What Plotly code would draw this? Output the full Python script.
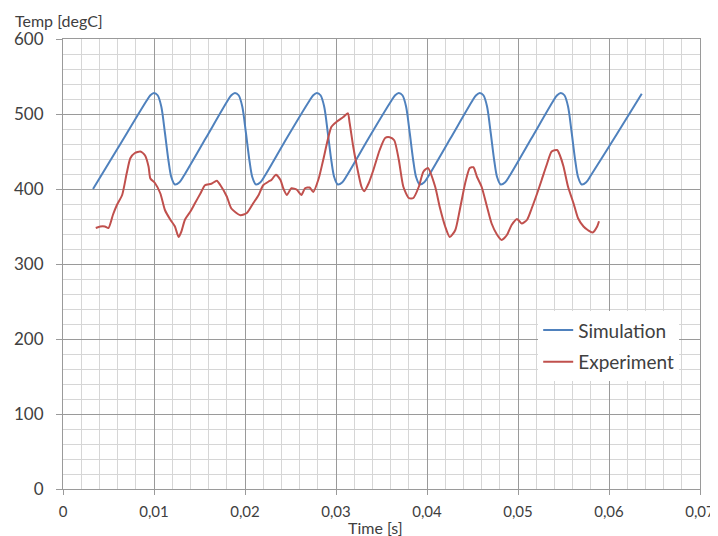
import plotly.graph_objects as go

# Simulation curve (time [s], temperature [degC])
sim_x = [0.0033, 0.0060, 0.0092, 0.0096, 0.0100, 0.0104, 0.0108, 0.0112, 0.0116, 0.0119, 0.0123, 0.0128, 0.0133, 0.0157,
         0.0181, 0.0185, 0.0189, 0.0193, 0.0197, 0.0201, 0.0205, 0.0208, 0.0212, 0.0217, 0.0222, 0.0246,
         0.0271, 0.0275, 0.0279, 0.0283, 0.0287, 0.0291, 0.0295, 0.0298, 0.0302, 0.0307, 0.0312, 0.0336,
         0.0361, 0.0365, 0.0369, 0.0373, 0.0377, 0.0381, 0.0385, 0.0388, 0.0392, 0.0397, 0.0402, 0.0426,
         0.0450, 0.0454, 0.0458, 0.0462, 0.0466, 0.0470, 0.0474, 0.0477, 0.0481, 0.0486, 0.0491, 0.0515,
         0.0539, 0.0543, 0.0547, 0.0551, 0.0555, 0.0559, 0.0563, 0.0566, 0.0570, 0.0575, 0.0580, 0.0608, 0.0636]
sim_y = [400, 454, 518, 525, 528, 525, 510, 475, 437, 416, 406, 409, 418, 468,
         518, 525, 528, 525, 510, 475, 437, 416, 406, 409, 418, 468,
         518, 525, 528, 525, 510, 475, 437, 416, 406, 409, 418, 468,
         518, 525, 528, 525, 510, 475, 437, 416, 406, 409, 418, 468,
         518, 525, 528, 525, 510, 475, 437, 416, 406, 409, 418, 468,
         518, 525, 528, 525, 510, 475, 437, 416, 406, 409, 418, 472, 527]

# Experiment curve
exp_x = [0.0036, 0.0041, 0.0046, 0.0050, 0.0055, 0.0059, 0.0065, 0.0070, 0.0074, 0.0079, 0.0085, 0.0090,
         0.0094, 0.0096, 0.0101, 0.0107, 0.0112, 0.0118, 0.0123, 0.0127, 0.0130, 0.0134, 0.0140, 0.0145,
         0.0151, 0.0156, 0.0163, 0.0169, 0.0173, 0.0180, 0.0185, 0.0195, 0.0202, 0.0209, 0.0215, 0.0220,
         0.0226, 0.0229, 0.0234, 0.0239, 0.0242, 0.0246, 0.0251, 0.0257, 0.0262, 0.0266, 0.0271, 0.0275,
         0.0281, 0.0286, 0.0295, 0.0301, 0.0308, 0.0313, 0.0315, 0.0319, 0.0323, 0.0328, 0.0331, 0.0336,
         0.0341, 0.0348, 0.0354, 0.0359, 0.0364, 0.0369, 0.0374, 0.0380, 0.0385, 0.0391, 0.0396, 0.0401,
         0.0409, 0.0414, 0.0420, 0.0425, 0.0431, 0.0436, 0.0442, 0.0447, 0.0451, 0.0455, 0.0460, 0.0466,
         0.0471, 0.0477, 0.0482, 0.0488, 0.0493, 0.0499, 0.0504, 0.0510, 0.0515, 0.0521, 0.0526, 0.0532,
         0.0537, 0.0543, 0.0546, 0.0550, 0.0555, 0.0561, 0.0566, 0.0572, 0.0577, 0.0582, 0.0587, 0.0589]
exp_y = [348, 350, 350, 348, 366, 378, 392, 421, 441, 448, 450, 445,
         430, 414, 408, 394, 372, 359, 350, 336, 343, 359, 370, 381,
         394, 405, 407, 411, 405, 390, 374, 365, 368, 381, 392, 405,
         410, 412, 419, 412, 401, 392, 401, 399, 392, 401, 402, 396,
         414, 439, 483, 490, 496, 501, 488, 456, 430, 403, 397, 408,
         425, 452, 468, 469, 465, 439, 403, 388, 388, 403, 423, 428,
         403, 376, 350, 336, 345, 372, 408, 428, 429, 416, 403, 376,
         354, 339, 332, 339, 352, 360, 354, 359, 374, 394, 412, 434,
         450, 452, 445, 430, 403, 381, 361, 350, 345, 342, 350, 357]

x_ticks = [0, 0.01, 0.02, 0.03, 0.04, 0.05, 0.06, 0.07]
x_labels = ["0", "0,01", "0,02", "0,03", "0,04", "0,05", "0,06", "0,07"]
y_ticks = [0, 100, 200, 300, 400, 500, 600]

FONT = "Lato"
TXT = "#404040"
MAJOR = "#9a9a9a"
MINOR = "#d6d6d6"

fig = go.Figure()
fig.add_trace(go.Scatter(x=sim_x, y=sim_y, mode="lines", name="Simulation", legendgroup="a",
                         line=dict(color="#4F81BD", width=2, shape="spline", smoothing=0.8)))
fig.add_trace(go.Scatter(x=exp_x, y=exp_y, mode="lines", name="Experiment", legendgroup="b",
                         line=dict(color="#C0504D", width=2, shape="spline", smoothing=0.6)))

fig.update_layout(
    width=710, height=528,
    margin=dict(l=55, r=18, t=31, b=47, autoexpand=False),
    paper_bgcolor="white", plot_bgcolor="white",
    font=dict(family=FONT, size=16, color=TXT),
    separators=", ",
    showlegend=True,
    legend=dict(x=0.746, y=0.395, xanchor="left", yanchor="top",
                bgcolor="white", borderwidth=0,
                font=dict(family=FONT, size=19, color=TXT),
                itemwidth=30, tracegroupgap=4),
    xaxis=dict(range=[0, 0.07], tickvals=x_ticks, ticktext=x_labels, automargin=False,
               showgrid=True, gridcolor=MAJOR, gridwidth=1,
               minor=dict(dtick=0.002, showgrid=True, gridcolor=MINOR, gridwidth=1),
               showline=True, linecolor=MAJOR, mirror=True,
               ticks="outside", ticklen=5, tickcolor=MAJOR, ticklabelstandoff=4,
               ticklabeloverflow="allow",
               zeroline=False, tickfont=dict(size=15)),
    yaxis=dict(range=[0, 600], tickvals=y_ticks, automargin=False,
               showgrid=True, gridcolor=MAJOR, gridwidth=1,
               minor=dict(dtick=20, showgrid=True, gridcolor=MINOR, gridwidth=1),
               showline=True, linecolor=MAJOR, mirror=True,
               ticks="outside", ticklen=6, tickcolor=MAJOR, ticklabelstandoff=9,
               zeroline=False, tickfont=dict(size=17)),
    annotations=[
        dict(text="Temp [degC]", xref="paper", yref="paper", x=-0.0785, y=1.042,
             xanchor="left", yanchor="middle", showarrow=False,
             font=dict(family=FONT, size=16, color=TXT)),
        dict(text="Time [s]", xref="paper", yref="paper", x=0.49, y=-0.086,
             xanchor="center", yanchor="middle", showarrow=False,
             font=dict(family=FONT, size=16, color=TXT)),
    ],
)

fig.write_html("out.html")
